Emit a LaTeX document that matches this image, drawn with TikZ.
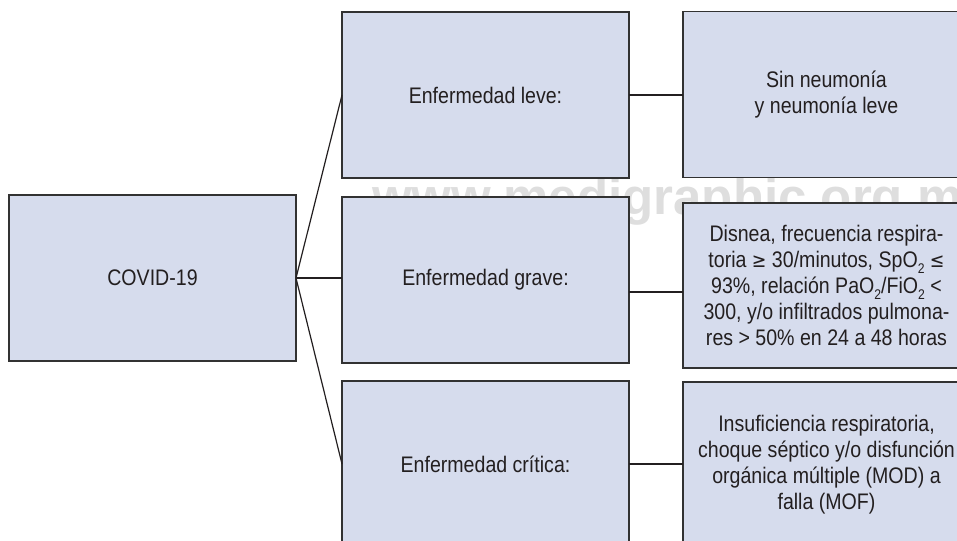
\documentclass[tikz,border=0pt]{standalone}
\usepackage{fontspec}
\setmainfont{Liberation Sans}[FakeStretch=0.87]
\newfontfamily\wmfont{Liberation Sans}
\newfontfamily\symfont{DejaVu Sans}[FakeStretch=0.87]
\newcommand\subtwo{\raisebox{-0.28em}{\fontsize{14}{14}\selectfont 2}}
\newcommand\gesym{{\symfont\fontsize{20}{20}\selectfont ≥}}
\newcommand\lesym{{\symfont\fontsize{20}{20}\selectfont ≤}}
\definecolor{boxfill}{RGB}{214,220,237}
\definecolor{boxline}{RGB}{50,50,50}
\definecolor{txt}{RGB}{35,31,32}
\definecolor{wm}{RGB}{222,222,222}
\tikzset{
  box/.style={draw=boxline, fill=boxfill, line width=1.2pt, minimum width=287pt, minimum height=166pt,
    inner sep=0pt, outer sep=0pt, align=center, text=txt,
    font=\fontsize{22.5}{26}\selectfont},
  link/.style={draw=txt, line width=1.2pt}
}
\begin{document}
\begin{tikzpicture}[x=1pt,y=-1pt]
\useasboundingbox (0,0) rectangle (957,540);
% watermark
\node[anchor=base west, inner sep=0pt, text=wm, font=\wmfont\bfseries\fontsize{51}{51}\selectfont] (wmark) at (372,214) {www.medigraphic.org.mx};
% boxes
\node[box] (covid) at (152.5,278) {COVID-19};
\node[box] (leve) at (485.5,95) {Enfermedad leve:};
\node[box] (grave) at (485.5,280) {Enfermedad grave:};
\node[box] (crit) at (485.5,464) {Enfermedad crítica:};
\node[box] (rleve) at (826.5,94.5) {Sin neumonía\\y neumonía leve};
\node[box, minimum height=165pt] (rgrave) at (826.5,285.5) {Disnea, frecuencia respira-\\toria \gesym{} 30/minutos, SpO\subtwo{} \lesym\\93\%, relación PaO\subtwo/FiO\subtwo{} <\\300, y/o infiltrados pulmona-\\res > 50\% en 24 a 48 horas};
\node[box] (rcrit) at (826.5,465) {Insuficiencia respiratoria,\\choque séptico y/o disfunción\\orgánica múltiple (MOD) a\\falla (MOF)};
% connectors
\draw[link] (covid.east) -- (leve.west);
\draw[link] (covid.east) -- (covid.east -| grave.west);
\draw[link] (covid.east) -- (crit.west);
\draw[link] (leve.east) -- (leve.east -| rleve.west);
\coordinate (g1) at ([yshift=-12pt]grave.east);
\draw[link] (g1) -- (g1 -| rgrave.west);
\draw[link] (crit.east) -- (crit.east -| rcrit.west);
\end{tikzpicture}
\end{document}
